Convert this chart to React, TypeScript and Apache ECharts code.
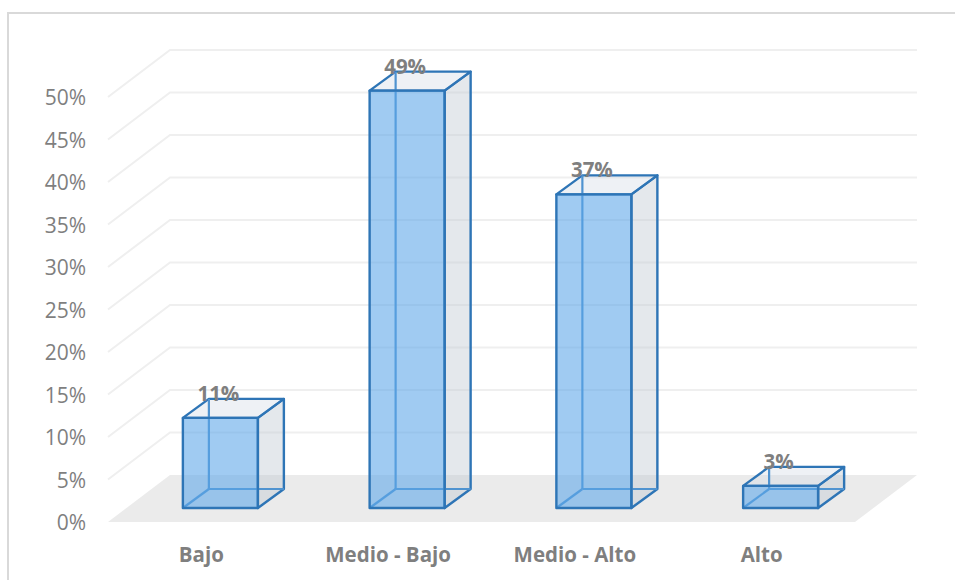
import React, { useEffect, useRef } from "react";
import * as echarts from "echarts";

const categories = ["Bajo", "Medio - Bajo", "Medio - Alto", "Alto"];
const values = [10.6, 49.1, 36.9, 2.6];
const tickValues = [5, 10, 15, 20, 25, 30, 35, 40, 45, 50];

const FONT = "'Open Sans', 'Noto Sans', sans-serif";
const GREY = "#7f7f7f";
const FLOOR_DX = 62;
const FLOOR_DY = 47;
const BAR_DX = 26;
const BAR_DY = 19;
const BAR_W = 75;

export default function App() {
  const ref = useRef<HTMLDivElement>(null);
  useEffect(() => {
    document.body.style.margin = "0";
    const chart = echarts.init(ref.current!, null, { renderer: "svg" });
    chart.setOption({
      animation: false,
      backgroundColor: "#ffffff",
      graphic: [
        {
          type: "polyline",
          silent: true,
          shape: { points: [[8, 580], [8, 13], [955, 13]] },
          style: { stroke: "#d9d9d9", lineWidth: 2, fill: "none" },
        },
      ],
      grid: { left: 108, right: 100, top: 97, bottom: 58 },
      xAxis: {
        type: "category",
        data: categories,
        axisLine: { show: false },
        axisTick: { show: false },
        axisLabel: {
          color: GREY,
          fontFamily: FONT,
          fontWeight: "bold",
          fontSize: 20.5,
          margin: 21,
        },
      },
      yAxis: {
        type: "value",
        min: 0,
        max: 50,
        interval: 5,
        axisLine: { show: false },
        axisTick: { show: false },
        splitLine: { show: false },
        axisLabel: {
          color: GREY,
          fontFamily: FONT,
          fontSize: 21,
          margin: 22,
          formatter: (v: number) => `${v}%`,
        },
      },
      series: [
        {
          type: "custom",
          name: "floor",
          silent: true,
          data: [0],
          encode: { y: 0 },
          renderItem: (params: any) => {
            const c = params.coordSys;
            const b = c.y + c.height;
            return {
              type: "polygon",
              shape: {
                points: [
                  [c.x, b],
                  [c.x + FLOOR_DX, b - FLOOR_DY],
                  [c.x + c.width + FLOOR_DX, b - FLOOR_DY],
                  [c.x + c.width, b],
                ],
              },
              style: { fill: "#ebebeb" },
            };
          },
        },
        {
          type: "custom",
          name: "walls",
          silent: true,
          data: tickValues,
          encode: { y: 0 },
          renderItem: (params: any, api: any) => {
            const c = params.coordSys;
            const y = api.coord([0, api.value(0)])[1];
            return {
              type: "polyline",
              shape: {
                points: [
                  [c.x, y],
                  [c.x + FLOOR_DX, y - FLOOR_DY],
                  [c.x + c.width + FLOOR_DX, y - FLOOR_DY],
                ],
              },
              style: { stroke: "#efefef", lineWidth: 2, fill: "none" },
            };
          },
        },
        {
          type: "custom",
          name: "bars",
          data: values.map((v, i) => [i, v]),
          encode: { x: 0, y: 1 },
          renderItem: (_params: any, api: any) => {
            const i = api.value(0);
            const v = api.value(1);
            const [cx, yTop0] = api.coord([i, v]);
            const yBase0 = api.coord([i, 0])[1];
            const ox = (FLOOR_DX - BAR_DX) / 2;
            const oy = (FLOOR_DY - BAR_DY) / 2;
            const l = cx + ox - BAR_W / 2 + 1;
            const r = l + BAR_W;
            const t = yTop0 - oy;
            const b = yBase0 - oy;
            const edge = "#2e75b6";
            const inner = "#4f93d0";
            const poly = (points: number[][], fill: string, stroke: string, lw = 2.4) => ({
              type: "polygon",
              shape: { points },
              style: { fill, stroke, lineWidth: lw, lineJoin: "round" },
            });
            const line = (x1: number, y1: number, x2: number, y2: number) => ({
              type: "line",
              shape: { x1, y1, x2, y2 },
              style: { stroke: inner, lineWidth: 2.2 },
            });
            return {
              type: "group",
              children: [
                poly(
                  [[r, t], [r + BAR_DX, t - BAR_DY], [r + BAR_DX, b - BAR_DY], [r, b]],
                  "rgba(190,200,210,0.42)",
                  edge,
                ),
                poly(
                  [[l, t], [l + BAR_DX, t - BAR_DY], [r + BAR_DX, t - BAR_DY], [r, t]],
                  "rgba(205,215,225,0.34)",
                  edge,
                ),
                line(l + BAR_DX, t - BAR_DY, l + BAR_DX, b - BAR_DY),
                line(l + BAR_DX, b - BAR_DY, r + BAR_DX, b - BAR_DY),
                line(l, b, l + BAR_DX, b - BAR_DY),
                poly([[l, t], [r, t], [r, b], [l, b]], "rgba(91,165,232,0.58)", edge),
                {
                  type: "text",
                  style: {
                    x: (l + r) / 2 - 2,
                    y: t - BAR_DY - 6,
                    text: `${Math.round(v)}%`,
                    fill: GREY,
                    font: `bold 20.5px ${FONT}`,
                    align: "center",
                    verticalAlign: "middle",
                  },
                },
              ],
            };
          },
        },
      ],
    });
    return () => chart.dispose();
  }, []);
  return <div ref={ref} style={{ width: 955, height: 580 }} />;
}
